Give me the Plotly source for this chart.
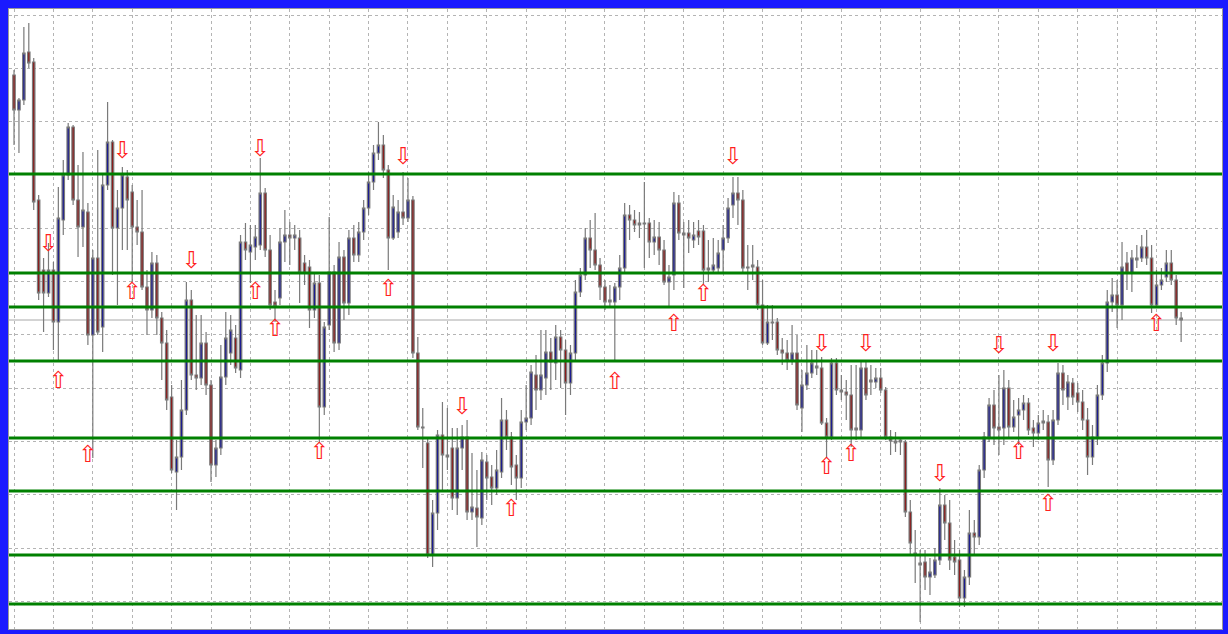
import plotly.graph_objects as go

# OHLC per bar (price units) left to right
opens = [
    925, 890, 900, 948, 938, 800, 730, 707, 730, 678, 780, 825, 873, 800, 773, 788, 665, 742, 673, 815,
    858, 772, 792, 823, 808, 773, 768, 713, 690, 737, 682, 657, 603, 528, 543, 590, 700, 625, 622, 657,
    615, 535, 552, 623, 647, 662, 630, 758, 748, 753, 755, 807, 750, 698, 702, 758, 765, 762, 762, 737,
    733, 690, 717, 593, 675, 728, 657, 743, 697, 762, 745, 768, 792, 818, 847, 855, 830, 762, 768, 788,
    782, 800, 647, 573, 557, 445, 487, 565, 545, 552, 502, 552, 563, 488, 492, 482, 538, 523, 512, 528,
    580, 563, 535, 522, 578, 582, 625, 610, 622, 648, 637, 663, 650, 617, 647, 708, 725, 762, 750, 735,
    713, 700, 698, 713, 732, 785, 780, 777, 777, 777, 758, 763, 750, 718, 725, 797, 767, 767, 760, 769,
    769, 732, 730, 732, 750, 762, 795, 807, 800, 733, 735, 733, 695, 657, 678, 678, 650, 647, 640, 647,
    592, 615, 627, 634, 632, 577, 563, 637, 610, 608, 605, 572, 570, 632, 620, 618, 622, 610, 563, 559,
    560, 558, 488, 447, 437, 438, 423, 425, 440, 495, 477, 443, 440, 402, 423, 467, 463, 530, 563, 595,
    573, 572, 612, 573, 585, 590, 597, 572, 567, 577, 578, 540, 580, 627, 603, 617, 607, 598, 580, 543,
    563, 605, 637, 698, 705, 695, 737, 727, 742, 742, 753, 742, 695, 715, 723, 737, 720, 682,
]
highs = [
    930, 902, 973, 977, 942, 805, 742, 757, 738, 813, 840, 877, 875, 835, 848, 797, 750, 850, 825, 898,
    860, 810, 833, 830, 815, 800, 810, 730, 748, 745, 688, 670, 615, 560, 620, 718, 710, 685, 685, 668,
    620, 560, 655, 688, 685, 675, 765, 777, 775, 775, 842, 812, 765, 710, 772, 790, 778, 775, 770, 745,
    740, 728, 725, 678, 783, 735, 758, 750, 770, 775, 778, 800, 828, 855, 878, 865, 835, 805, 800, 828,
    822, 804, 663, 592, 563, 500, 570, 598, 592, 572, 572, 575, 580, 547, 530, 548, 545, 535, 550, 602,
    590, 568, 545, 590, 615, 635, 645, 670, 670, 662, 675, 670, 660, 655, 720, 732, 772, 780, 787, 742,
    720, 715, 717, 745, 797, 795, 790, 788, 818, 782, 780, 778, 760, 735, 808, 805, 778, 780, 778, 780,
    775, 760, 762, 760, 775, 802, 823, 823, 810, 755, 755, 740, 720, 695, 695, 682, 662, 660, 675, 665,
    630, 655, 650, 650, 643, 582, 642, 642, 625, 620, 635, 635, 638, 638, 635, 632, 632, 613, 570, 568,
    562, 560, 500, 470, 450, 450, 442, 452, 512, 505, 500, 460, 450, 430, 490, 480, 535, 568, 602, 610,
    625, 630, 620, 600, 602, 605, 602, 580, 585, 590, 585, 590, 637, 635, 625, 622, 617, 610, 592, 575,
    615, 645, 710, 722, 720, 758, 748, 750, 755, 765, 770, 755, 730, 732, 750, 750, 725, 688,
]
lows = [
    855, 847, 895, 932, 790, 700, 668, 703, 650, 640, 765, 820, 795, 743, 753, 655, 542, 665, 648, 810,
    725, 695, 750, 750, 718, 755, 710, 665, 682, 665, 620, 590, 527, 490, 530, 585, 620, 610, 615, 605,
    518, 523, 545, 615, 635, 627, 622, 740, 717, 740, 750, 743, 690, 678, 695, 738, 735, 750, 697, 715,
    672, 682, 557, 585, 670, 648, 650, 680, 685, 738, 738, 760, 785, 810, 840, 822, 730, 760, 762, 775,
    778, 642, 570, 532, 442, 433, 470, 510, 530, 490, 485, 530, 480, 480, 453, 475, 500, 495, 505, 522,
    550, 515, 500, 512, 570, 575, 590, 600, 605, 610, 620, 612, 585, 605, 640, 703, 720, 732, 730, 700,
    690, 694, 640, 700, 728, 760, 768, 762, 732, 742, 745, 735, 715, 693, 710, 760, 712, 747, 752, 755,
    715, 718, 727, 728, 728, 757, 782, 775, 728, 710, 720, 690, 655, 655, 660, 645, 635, 630, 635, 590,
    568, 610, 622, 625, 575, 542, 560, 605, 600, 580, 553, 560, 562, 600, 605, 612, 607, 560, 545, 548,
    545, 483, 445, 417, 378, 410, 405, 422, 435, 460, 430, 425, 393, 393, 415, 445, 455, 522, 558, 555,
    545, 555, 563, 568, 555, 580, 565, 553, 560, 570, 513, 535, 575, 595, 590, 595, 588, 570, 525, 535,
    555, 600, 628, 688, 672, 680, 710, 708, 732, 738, 735, 687, 693, 710, 718, 715, 675, 658,
]
closes = [
    890, 900, 947, 937, 798, 707, 707, 730, 678, 782, 825, 873, 800, 773, 790, 665, 742, 668, 815, 858,
    772, 792, 825, 800, 773, 768, 713, 690, 737, 682, 657, 600, 530, 543, 590, 700, 625, 622, 657, 615,
    535, 552, 623, 662, 670, 632, 758, 750, 755, 763, 807, 750, 695, 694, 758, 765, 762, 765, 728, 727,
    690, 717, 593, 673, 728, 657, 743, 697, 762, 745, 768, 792, 818, 847, 855, 830, 762, 793, 788, 782,
    800, 647, 573, 572, 445, 487, 565, 545, 543, 502, 552, 563, 488, 493, 483, 540, 522, 512, 530, 580,
    563, 533, 522, 578, 582, 628, 610, 625, 648, 638, 663, 650, 617, 647, 708, 725, 762, 750, 735, 713,
    698, 698, 713, 732, 785, 780, 775, 775, 776, 758, 763, 750, 718, 723, 797, 767, 765, 762, 765, 763,
    730, 730, 735, 747, 762, 792, 807, 800, 732, 732, 733, 695, 657, 678, 677, 650, 647, 640, 647, 595,
    615, 627, 637, 632, 577, 563, 637, 610, 608, 605, 570, 570, 632, 605, 618, 622, 610, 563, 559, 557,
    558, 488, 457, 445, 435, 423, 428, 440, 495, 477, 440, 438, 402, 423, 467, 463, 530, 563, 595, 572,
    570, 612, 573, 583, 590, 597, 570, 567, 577, 579, 540, 580, 627, 610, 618, 603, 598, 580, 543, 563,
    605, 637, 698, 705, 695, 733, 727, 742, 740, 753, 742, 695, 715, 720, 737, 720, 682, 680,
]
bars = list(range(len(closes)))

# horizontal support / resistance levels
levels = [826, 727, 693, 639, 562, 509, 445, 396]

# fractal markers (bar index, price level of the arrow)
frac_up_bar = [9, 15, 24, 49, 53, 62, 76, 101, 122, 134, 140, 165, 170, 204, 210, 232]
frac_up_val = [618, 544, 707, 707, 670, 547, 710, 490, 617, 675, 705, 532, 545, 547, 495, 675]
frac_dn_bar = [7, 22, 36, 50, 79, 91, 146, 164, 173, 188, 200, 211]
frac_dn_val = [755, 848, 738, 850, 842, 592, 842, 655, 655, 525, 653, 655]

BORDER = "#1a1aff"
GRID = "#b4b4b4"
ARROW = "#ff2020"

fig = go.Figure()

fig.add_trace(go.Candlestick(
    x=bars, open=opens, high=highs, low=lows, close=closes,
    increasing=dict(line=dict(color="#7a7a7a", width=1.2), fillcolor="#1c1c90"),
    decreasing=dict(line=dict(color="#7a7a7a", width=1.2), fillcolor="#8a1c1c"),
    whiskerwidth=0, showlegend=False, name="Price",
))

# fractal arrows
fig.add_trace(go.Scatter(
    x=frac_up_bar, y=frac_up_val, mode="text", text=["⇧"] * len(frac_up_bar),
    textfont=dict(family="DejaVu Sans", size=23, color=ARROW),
    showlegend=False, hoverinfo="skip",
))
fig.add_trace(go.Scatter(
    x=frac_dn_bar, y=frac_dn_val, mode="text", text=["⇩"] * len(frac_dn_bar),
    textfont=dict(family="DejaVu Sans", size=23, color=ARROW),
    showlegend=False, hoverinfo="skip",
))

# bid line at the last close
fig.add_hline(y=closes[-1], line=dict(color="#a8a8a8", width=1), layer="below")

for lv in levels:
    fig.add_hline(y=lv, line=dict(color="#008000", width=3))

fig.update_layout(
    width=1228, height=634,
    paper_bgcolor=BORDER, plot_bgcolor="white",
    margin=dict(l=9, r=6, t=9, b=5),
    xaxis_rangeslider_visible=False,
    showlegend=False,
)
fig.update_xaxes(range=[-1.02, 245.3], showticklabels=False, ticks="",
                 showgrid=True, gridcolor=GRID, griddash="3px,3px", gridwidth=1,
                 tick0=0, dtick=8, zeroline=False,
                 showline=True, linecolor="#9a9a9a", mirror=True)
fig.update_yaxes(range=[371, 991], showticklabels=False, ticks="",
                 showgrid=True, gridcolor=GRID, griddash="3px,3px", gridwidth=1,
                 tick0=985, dtick=53.3, zeroline=False,
                 showline=True, linecolor="#9a9a9a", mirror=True)

fig.write_html("out.html", config={"displayModeBar": False},
               post_script="document.body.style.margin='0';")
